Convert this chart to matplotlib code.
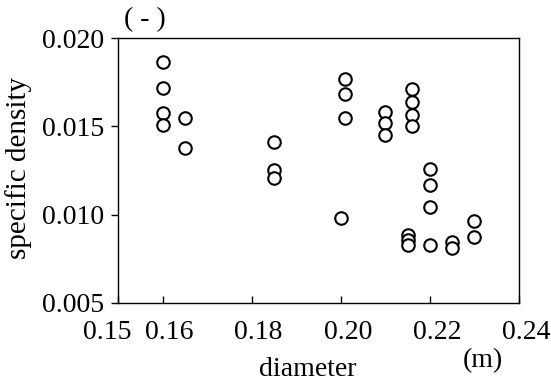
import matplotlib.pyplot as plt
from matplotlib.transforms import ScaledTranslation

plt.rcParams['font.family'] = ['Liberation Serif', 'DejaVu Serif']

# diameter (m) and specific density (-)
diameter = [0.160, 0.160, 0.160, 0.160,
            0.165, 0.165,
            0.185, 0.185, 0.185,
            0.200,
            0.201, 0.201, 0.201,
            0.210, 0.210, 0.210,
            0.216, 0.216, 0.216, 0.216,
            0.215, 0.215, 0.215,
            0.220, 0.220, 0.220, 0.220,
            0.225, 0.225,
            0.230, 0.230]
density = [0.01866, 0.01715, 0.01574, 0.01507,
           0.01549, 0.01379,
           0.01409, 0.01253, 0.01206,
           0.00983,
           0.01766, 0.01685, 0.01549,
           0.01583, 0.01520, 0.01451,
           0.01713, 0.01636, 0.01564, 0.01503,
           0.00884, 0.00856, 0.00828,
           0.01258, 0.01166, 0.01041, 0.00828,
           0.00843, 0.00813,
           0.00964, 0.00871]

xticks = [0.15, 0.16, 0.18, 0.20, 0.22, 0.24]
xtick_labels = ["0.15", "0.16", "0.18", "0.20", "0.22", "0.24"]
yticks = [0.005, 0.010, 0.015, 0.020]
ytick_labels = ["0.005", "0.010", "0.015", "0.020"]

fig = plt.figure(figsize=(5.51, 3.85), dpi=100)
ax = fig.add_axes([118 / 551, 1 - 303 / 385, 401 / 551, 265 / 385])

ax.plot(diameter, density, linestyle="none", marker="o", markersize=9,
        markerfacecolor="white", markeredgecolor="black", markeredgewidth=1.5)

ax.set_xlim(0.15, 0.24)
ax.set_ylim(0.005, 0.020)
ax.set_xticks(xticks)
ax.set_xticklabels(xtick_labels)
ax.set_yticks(yticks)
ax.set_yticklabels(ytick_labels)

ax.tick_params(axis="x", direction="in", length=5, width=1, labelsize=20, pad=12)
ax.tick_params(axis="y", direction="out", length=5, width=1, labelsize=20, pad=5)
for s in ax.spines.values():
    s.set_linewidth(1.0)

# tick labels sit a little right of their ticks; 0.15 is pushed left
for lab in ax.get_xticklabels():
    dx = -0.105 if lab.get_text() == "0.15" else 0.07
    lab.set_transform(lab.get_transform() + ScaledTranslation(dx, 0, fig.dpi_scale_trans))

ax.set_xlabel("diameter", fontsize=20)
ax.xaxis.set_label_coords(0.474, -0.2755)
ax.xaxis.label.set_verticalalignment("baseline")
ax.set_ylabel("specific density", fontsize=21)
ax.yaxis.set_label_coords(-0.247, 0.51)
ax.yaxis.label.set_verticalalignment("center")

fig.text(145 / 551, 1 - 20 / 385, "( - )", fontsize=20, ha="center", va="center")
fig.text(483 / 551, 1 - 361 / 385, "(m)", fontsize=20, ha="center", va="center")

fig.savefig("out.png", dpi=100)
